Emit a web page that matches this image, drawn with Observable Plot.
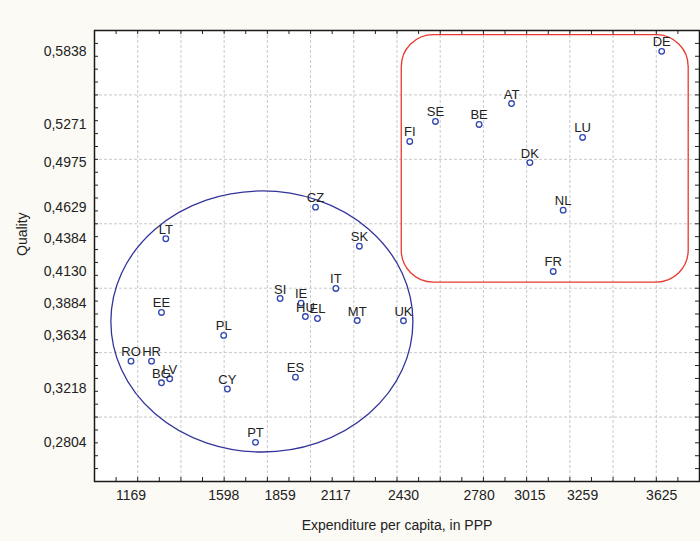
<!DOCTYPE html>
<html><head><meta charset="utf-8">
<script src="https://cdn.jsdelivr.net/npm/d3@7"></script>
<script src="https://cdn.jsdelivr.net/npm/@observablehq/plot@0.6"></script>
<style>
html,body{margin:0;padding:0;background:#fbfaf5;}
#chart svg{display:block;}
</style></head><body><div id="chart"></div>
<script>
const countries   = ["RO","HR","BG","LV","EE","LT","PL","CY","PT","SI","ES","IE","HU","CZ","EL","IT","MT","SK","UK","FI","SE","BE","AT","DK","FR","NL","LU","DE"];
const expenditure = [1169,1264,1310,1348,1310,1330,1598,1615,1745,1859,1930,1956,1976,2023,2032,2117,2216,2226,2430,2459,2578,2780,2930,3015,3123,3169,3259,3625];
const quality     = [0.3434,0.3434,0.3266,0.3297,0.3812,0.4384,0.3634,0.3218,0.2804,0.3920,0.3310,0.3884,0.3780,0.4629,0.3765,0.3998,0.3749,0.4326,0.3747,0.5139,0.5294,0.5271,0.5433,0.4975,0.4130,0.4606,0.5170,0.5838];

const xTickLabels = [1169,1598,1859,2117,2430,2780,3015,3259,3625];
const yTickLabels = [0.2804,0.3218,0.3634,0.3884,0.4130,0.4384,0.4629,0.4975,0.5271,0.5838];
const xGridLines  = [1200,1400,1600,1800,2000,2200,2400,2600,2800,3000,3200,3400,3600];
const yGridLines  = [0.30,0.35,0.40,0.45,0.50,0.55];
const xMinorTicks = d3.range(1100, 3800, 100);
const yMinorTicks = d3.range(26, 60).map(d => d / 100);

// annotation shapes (data units)
const lowGroup  = {cx: 1777, cy: 0.3738, rx: 699, ry: 0.1013};
const highGroup = {x1: 2422, x2: 3750, y1: 0.4044, y2: 0.5964};

const data = countries.map((c, i) => ({name: c, x: expenditure[i], y: quality[i]}));

const W = 700, H = 541, mL = 94, mR = 1, mT = 30, mB = 60;
const pw = W - mL - mR, ph = H - mT - mB;
const font = "'Liberation Sans', Arial, sans-serif";

const chart = Plot.plot({
  width: W, height: H,
  marginLeft: mL, marginRight: mR, marginTop: mT, marginBottom: mB,
  style: {background: "transparent", fontFamily: font, color: "#222"},
  x: {domain: [1000, 3800]},
  y: {domain: [0.25, 0.60]},
  marks: [
    Plot.frame({fill: "white", stroke: "none"}),
    Plot.gridX(xGridLines, {stroke: "#c9c9c9", strokeOpacity: 1, strokeDasharray: "3,2"}),
    Plot.gridY(yGridLines, {stroke: "#c9c9c9", strokeOpacity: 1, strokeDasharray: "3,2"}),
    // inward minor ticks on all four sides
    Plot.tickX(xMinorTicks, {x: d => d, insetTop: ph - 4, stroke: "#222"}),
    Plot.tickX(xMinorTicks, {x: d => d, insetBottom: ph - 4, stroke: "#222"}),
    Plot.tickY(yMinorTicks, {y: d => d, insetRight: pw - 4, stroke: "#222"}),
    Plot.tickY(yMinorTicks, {y: d => d, insetLeft: pw - 4, stroke: "#222"}),
    Plot.axisX(xTickLabels, {tickSize: 0, tickPadding: 9, fontSize: 14, tickFormat: d => String(d), label: null}),
    Plot.axisY(yTickLabels, {tickSize: 0, tickPadding: 8, fontSize: 14, tickFormat: d => d.toFixed(4).replace(".", ","), label: null}),
    // ellipse around low-expenditure group
    (index, scales) => {
      const g = document.createElementNS("http://www.w3.org/2000/svg", "g");
      const e = document.createElementNS("http://www.w3.org/2000/svg", "ellipse");
      const cx = scales.x(lowGroup.cx), cy = scales.y(lowGroup.cy);
      e.setAttribute("cx", cx);
      e.setAttribute("cy", cy);
      e.setAttribute("rx", Math.abs(scales.x(lowGroup.cx + lowGroup.rx) - cx));
      e.setAttribute("ry", Math.abs(scales.y(lowGroup.cy + lowGroup.ry) - cy));
      e.setAttribute("fill", "none");
      e.setAttribute("stroke", "#33349a");
      e.setAttribute("stroke-width", "1.3");
      g.appendChild(e);
      return g;
    },
    Plot.rect([highGroup], {x1: "x1", x2: "x2", y1: "y1", y2: "y2", rx: 32, fill: "none", stroke: "#e8382f", strokeWidth: 1.3}),
    Plot.dot(data, {x: "x", y: "y", r: 2.8, fill: "white", stroke: "#2f45b0", strokeWidth: 1.3}),
    Plot.text(data, {x: "x", y: "y", text: "name", dy: -5, lineAnchor: "bottom", fontSize: 13, fill: "#222"}),
    Plot.text(["Expenditure per capita, in PPP"], {text: d => d, frameAnchor: "bottom", dy: 48, fontSize: 14, fill: "#222"}),
    Plot.text(["Quality"], {text: d => d, frameAnchor: "left", dx: -72, rotate: -90, fontSize: 14, fill: "#222"}),
    Plot.frame({stroke: "#1a1a1a", strokeWidth: 1.5})
  ]
});
document.getElementById("chart").appendChild(chart);
</script>
</body></html>
